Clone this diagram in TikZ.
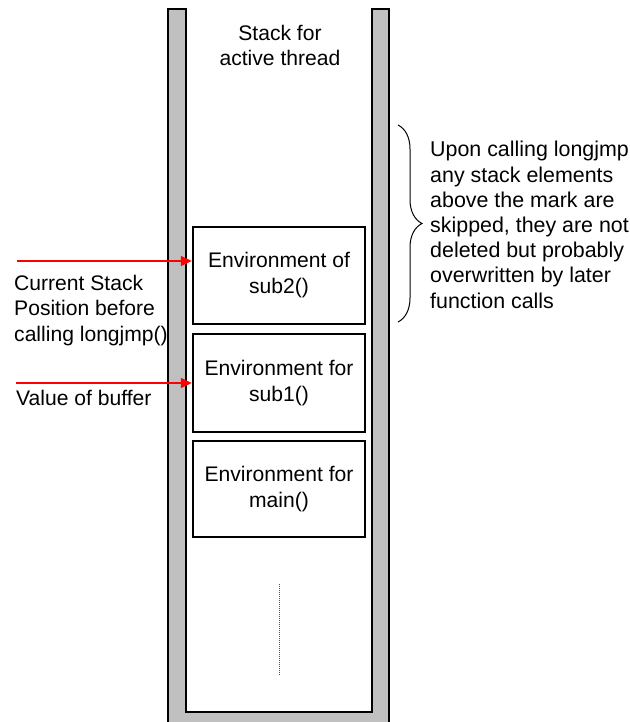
\documentclass[tikz,border=0pt]{standalone}
\usepackage{fontspec}
\setmainfont{Liberation Sans}
\usetikzlibrary{arrows.meta,decorations.pathreplacing}
\definecolor{wallgray}{HTML}{C0C0C0}
\definecolor{arrowred}{HTML}{FF0000}
\tikzset{
  txt/.style={inner sep=0pt,font=\fontsize{21.1}{25.5}\selectfont},
  envbox/.style={draw=black,line width=2.5pt,minimum width=172pt,inner sep=0pt,align=center,font=\fontsize{21.1}{26}\selectfont},
  redarrow/.style={draw=arrowred,line width=1.5pt,-{Triangle[length=11pt,width=10pt]}},
  wall/.style={fill=wallgray,draw=black,line width=2.5pt},
  bracestyle/.style={draw=black,line width=1pt,decorate,decoration={brace,amplitude=24pt}},
  dotline/.style={draw=black!70,line width=1pt,dash pattern=on 1pt off 1pt}
}
\begin{document}
\begin{tikzpicture}[x=1pt,y=-1pt]
\useasboundingbox (0,0) rectangle (629,722);
% container walls
\draw[wall] (168,9) -- (168,726) -- (389,726) -- (389,9) -- (372,9) -- (372,712) -- (186,712) -- (186,9) -- cycle;
% title (base anchor = baseline of the last line)
\node[txt,anchor=base,align=center] (title) at (280,66) {Stack for\\active thread};
% environment boxes
\node[envbox,minimum height=97pt] (sub2) at (279,275.5) {Environment of\\sub2()};
\node[envbox,minimum height=98pt] (sub1) at (279,383) {Environment for\\sub1()};
\node[envbox,minimum height=96pt] (main) at (279,489) {Environment for\\main()};
% dotted continuation
\coordinate (dtop) at (279,584);
\coordinate (dbot) at (279,676);
\draw[dotline] (dtop) -- (dbot);
% arrows
\coordinate (a1) at (17,261);
\coordinate (a2) at (16,383);
\draw[redarrow] (a1) -- (a1 -| sub2.west);
\draw[redarrow] (a2) -- (a2 -| sub1.west);
% left labels
\node[txt,anchor=base west,align=left] (cur) at (14,341) {Current Stack\\Position before\\calling longjmp()};
\node[txt,anchor=base west,align=left] (val) at (16,405) {Value of buffer};
% brace
\coordinate (btop) at (398,125);
\coordinate (bbot) at (398,322);
\draw[bracestyle] (btop) -- (bbot);
% right text
\node[txt,anchor=base west,align=left,font=\fontsize{21.4}{25.2}\selectfont] (note) at (430,308) {Upon calling longjmp\\any stack elements\\above the mark are\\skipped, they are not\\deleted but probably\\overwritten by later\\function calls};
\end{tikzpicture}
\end{document}
